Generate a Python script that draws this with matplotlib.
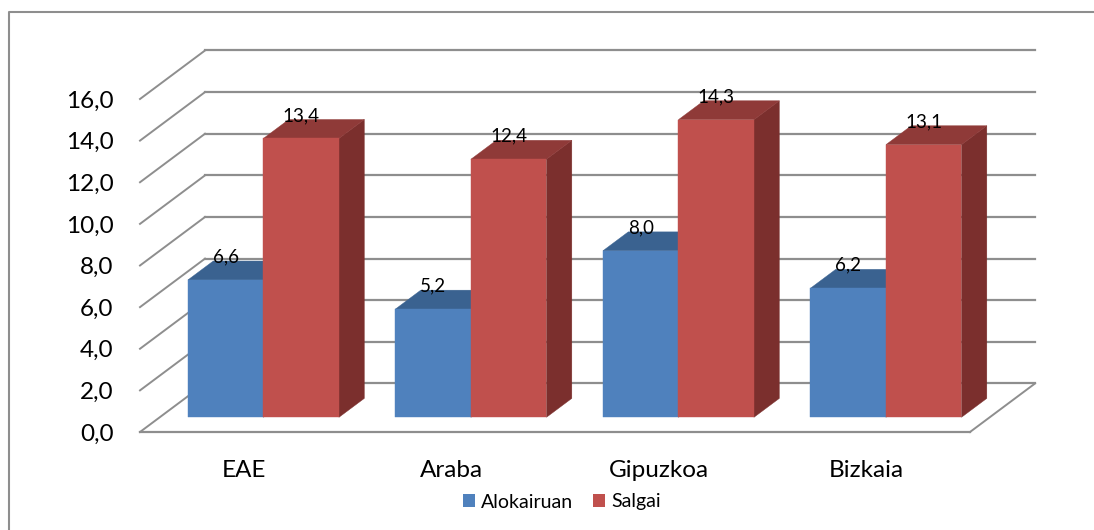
import matplotlib.pyplot as plt
from matplotlib.lines import Line2D
from matplotlib.patches import Patch, Polygon

plt.rcParams["font.family"] = ["Lato", "DejaVu Sans"]

categories = ["EAE", "Araba", "Gipuzkoa", "Bizkaia"]
alokairuan = [6.6, 5.2, 8.0, 6.2]
salgai = [13.4, 12.4, 14.3, 13.1]
y_ticks = [0, 2, 4, 6, 8, 10, 12, 14, 16]
y_labels = ["0,0", "2,0", "4,0", "6,0", "8,0", "10,0", "12,0", "14,0", "16,0"]

W, H = 1094, 530
GRID = "#8e8e8e"

# depth of the fake 3D box, in data units
DEPTH_X = 65 / 207.5
DEPTH_Y = 48.5 / 20.81
BAR_W = 0.364
BAR_FRONT = 0.303
BAR_BACK = 0.693


def shifted(x, y, depth):
    return x + DEPTH_X * depth, y + DEPTH_Y * depth


def draw_bar(ax, left, value, front, top, side, z):
    x0, y0 = shifted(left, 0, BAR_FRONT)
    x1 = x0 + BAR_W
    y1 = y0 + value
    dx = DEPTH_X * (BAR_BACK - BAR_FRONT)
    dy = DEPTH_Y * (BAR_BACK - BAR_FRONT)
    ax.add_patch(Polygon([(x1, y0), (x1 + dx, y0 + dy), (x1 + dx, y1 + dy), (x1, y1)],
                         facecolor=side, edgecolor=side, lw=0.3, zorder=z, clip_on=False))
    ax.add_patch(Polygon([(x0, y1), (x0 + dx, y1 + dy), (x1 + dx, y1 + dy), (x1, y1)],
                         facecolor=top, edgecolor=top, lw=0.3, zorder=z, clip_on=False))
    ax.add_patch(Polygon([(x0, y0), (x1, y0), (x1, y1), (x0, y1)],
                         facecolor=front, edgecolor=front, lw=0.3, zorder=z + 0.1, clip_on=False))
    ax.annotate(f"{value:.1f}".replace(".", ","), ((x0 + x1) / 2, y1), xytext=(0, 23),
                textcoords="offset pixels", ha="center", va="center",
                fontsize=13.5, color="black", zorder=10)


fig = plt.figure(figsize=(W / 100, H / 100), dpi=100)
ax = fig.add_axes([140 / W, (H - 432) / H, 830 / W, 333 / H])
ax.set_xlim(0, 4)
ax.set_ylim(0, 16)
for s in ax.spines.values():
    s.set_visible(False)
ax.patch.set_visible(False)

# walls and floor
for t in y_ticks:
    bx, by = shifted(0, t, 1)
    ax.plot([0, bx], [t, by], color=GRID, lw=1.4, clip_on=False, zorder=1)
    ax.plot([bx, 4 + DEPTH_X], [by, by], color=GRID, lw=1.6, clip_on=False, zorder=1)
ax.plot([0, 4], [0, 0], color=GRID, lw=1.6, clip_on=False, zorder=1)
ax.plot([4, 4 + DEPTH_X], [0, DEPTH_Y], color=GRID, lw=1.4, clip_on=False, zorder=1)

for i in range(len(categories)):
    draw_bar(ax, i + 0.5 - BAR_W, alokairuan[i], "#4F81BD", "#3A6290", "#2F5278", 3)
    draw_bar(ax, i + 0.5, salgai[i], "#C0504D", "#8F3A38", "#7B2F2D", 4)

ax.set_yticks(y_ticks)
ax.set_yticklabels(y_labels, fontsize=17.5, color="black")
ax.set_xticks([i + 0.5 for i in range(len(categories))])
ax.set_xticklabels(categories, fontsize=17.5, color="black")
ax.tick_params(axis="y", length=0, pad=19)
ax.tick_params(axis="x", length=0, pad=20.5)

handles = [Patch(facecolor="#4F81BD", label="Alokairuan"), Patch(facecolor="#C0504D", label="Salgai")]
fig.legend(handles=handles, loc="center", bbox_to_anchor=(562 / W, (H - 502) / H), frameon=False,
           ncol=2, fontsize=14, handlelength=0.62, handleheight=0.62, handletextpad=0.3,
           columnspacing=1.03, borderpad=0)

# chart frame, only left and top fall inside the crop
fig.add_artist(Line2D([9 / W, 9 / W, 1], [0, (H - 12) / H, (H - 12) / H], color=GRID, lw=1.5))

fig.savefig("out.png", dpi=100)
